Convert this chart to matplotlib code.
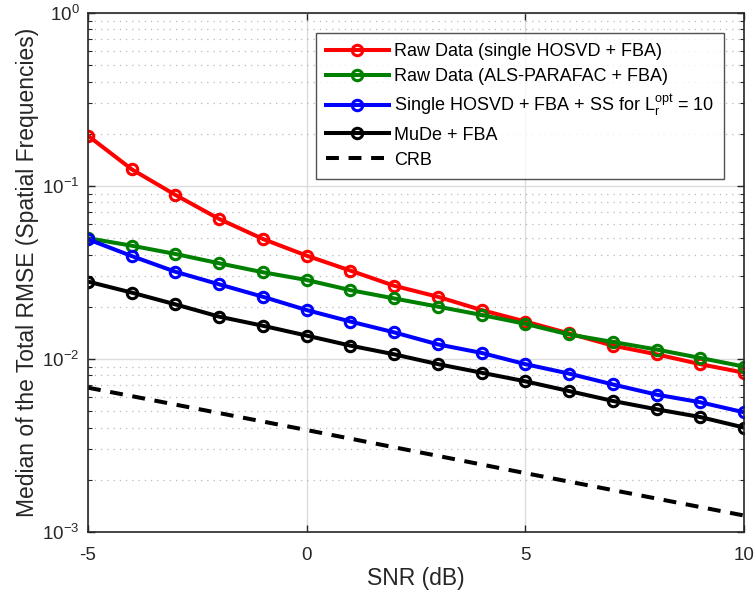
import matplotlib
matplotlib.use("Agg")
import matplotlib.pyplot as plt
from matplotlib.ticker import LogLocator, NullFormatter

plt.rcParams['font.family'] = ['Liberation Sans', 'DejaVu Sans']
plt.rcParams['mathtext.fontset'] = 'custom'
plt.rcParams['mathtext.rm'] = 'Liberation Sans'
plt.rcParams['mathtext.it'] = 'Liberation Sans'
plt.rcParams['axes.unicode_minus'] = False

# SNR axis
snr = [-5, -4, -3, -2, -1, 0, 1, 2, 3, 4, 5, 6, 7, 8, 9, 10]

# Median total RMSE per method
raw_hosvd = [0.1945, 0.1244, 0.0884, 0.0642, 0.0492, 0.0394, 0.0323, 0.0264,
             0.0228, 0.0191, 0.0164, 0.0140, 0.0119, 0.0106, 0.0093, 0.0083]
raw_parafac = [0.0497, 0.0450, 0.0403, 0.0356, 0.0316, 0.0285, 0.0249, 0.0223,
               0.0200, 0.0179, 0.0159, 0.0138, 0.0125, 0.0113, 0.0101, 0.0090]
hosvd_ss = [0.0490, 0.0392, 0.0318, 0.0269, 0.0228, 0.0191, 0.0164, 0.0142,
            0.0121, 0.0108, 0.0093, 0.0082, 0.0071, 0.0062, 0.0056, 0.0049]
mude = [0.0279, 0.0241, 0.0206, 0.0175, 0.0155, 0.0136, 0.0119, 0.0106,
        0.0093, 0.0083, 0.0074, 0.0065, 0.0057, 0.0051, 0.0046, 0.0040]

crb_snr = [-5, 0, 5, 10]
crb = [0.0068, 0.00387, 0.00218, 0.00124]

labels = ['Raw Data (single HOSVD + FBA)',
          'Raw Data (ALS-PARAFAC + FBA)',
          r'Single HOSVD + FBA + SS for $\mathrm{L_r^{opt}}$ = 10',
          'MuDe + FBA',
          'CRB']

fig = plt.figure(figsize=(7.56, 5.96), dpi=100)
ax = fig.add_axes([0.1164, 0.1079, 0.8677, 0.8708])

style = dict(marker='o', markersize=7.5, markerfacecolor='none',
             markeredgewidth=2.2, linewidth=2.9)
ax.plot(snr, raw_hosvd, color=(1, 0, 0), label=labels[0], **style)
ax.plot(snr, raw_parafac, color=(0, 0.5, 0), label=labels[1], **style)
ax.plot(snr, hosvd_ss, color=(0, 0, 1), label=labels[2], **style)
ax.plot(snr, mude, color='k', label=labels[3], **style)
ax.plot(crb_snr, crb, color='k', linestyle=(0, (3.2, 2.4)), linewidth=2.9,
        label=labels[4])

ax.set_yscale('log')
ax.set_xlim(-5, 10)
ax.set_ylim(1e-3, 1)
ax.set_xticks([-5, 0, 5, 10])
ax.set_xticklabels(['-5', '0', '5', '10'])
ax.set_yticks([1e-3, 1e-2, 1e-1, 1])
ax.set_yticklabels([r'$10^{-3}$', r'$10^{-2}$', r'$10^{-1}$', r'$10^{0}$'])
ax.yaxis.set_minor_locator(LogLocator(base=10, subs=range(2, 10)))
ax.yaxis.set_minor_formatter(NullFormatter())

ax.grid(True, which='major', color='#dcdcdc', linewidth=1.0, linestyle='-')
ax.grid(True, which='minor', axis='y', color='#b8b8b8', linewidth=0.9,
        linestyle=(0, (1, 4)))
ax.set_axisbelow(True)

ax.tick_params(which='both', direction='in', top=True, right=True,
               labelsize=13.5, colors='#262626', labelcolor='#262626')
ax.tick_params(which='major', length=5, width=1)
ax.tick_params(which='minor', length=3, width=0.8)
ax.tick_params(axis='x', pad=11)
ax.tick_params(axis='y', pad=6)
for sp in ax.spines.values():
    sp.set_color('#262626')
    sp.set_linewidth(1.2)

ax.set_xlabel('SNR (dB)', fontsize=16.5, color='#262626', labelpad=2)
ax.set_ylabel('Median of the Total RMSE (Spatial Frequencies)', fontsize=16.5,
              color='#262626', labelpad=2)

leg = ax.legend(loc='upper right', bbox_to_anchor=(0.9695, 0.961),
                borderaxespad=0, fontsize=13,
                frameon=True, fancybox=False, edgecolor='#262626',
                handlelength=3.5, borderpad=0.55, labelspacing=0.45,
                handletextpad=0.28)
leg.get_frame().set_linewidth(1.0)

fig.savefig('out.png', dpi=100)
